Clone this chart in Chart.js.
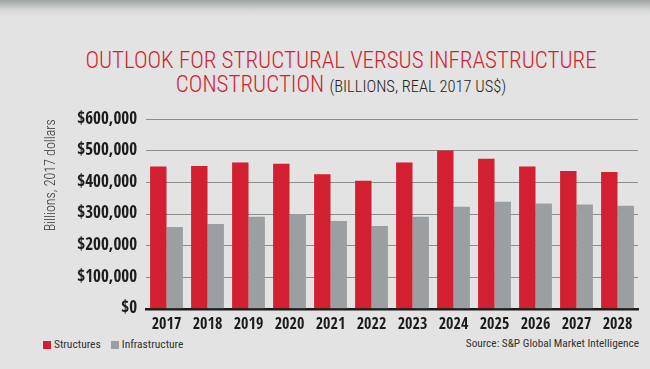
<!DOCTYPE html>
<html>
<head>
<meta charset="utf-8">
<script src="https://cdn.jsdelivr.net/npm/chart.js@4"></script>
<style>
  html, body { margin: 0; padding: 0; }
  body {
    width: 650px; height: 369px; overflow: hidden; position: relative;
    background: linear-gradient(to bottom, #a0a3a3 0px, #d6d8d7 10px, #e2e3e2 16px, #e2e3e2 100%);
    font-family: "Roboto Condensed", sans-serif;
  }
  #title {
    position: absolute; left: 16px; top: 49px; width: 650px;
    text-align: center; color: #d21f31; font-size: 23px; line-height: 24px; font-weight: 300;
  }
  #title .sub { color: #222; font-size: 16.5px; }
  #source {
    position: absolute; right: 11px; top: 337px;
    font-size: 11.3px; color: #333;
  }
  #legend {
    position: absolute; left: 43px; top: 337px;
    font-size: 11.5px; color: #333; line-height: 15px; white-space: nowrap;
  }
  #legend span.item { margin-right: 10px; }
  #legend i { display: inline-block; width: 8px; height: 8px; margin-right: 3px; vertical-align: -0.5px; }
  #wrap { position: absolute; left: 0; top: 100px; width: 650px; height: 245px; }
</style>
</head>
<body>
<div id="title">OUTLOOK FOR STRUCTURAL VERSUS INFRASTRUCTURE<br>CONSTRUCTION <span class="sub">(BILLIONS, REAL 2017 US$)</span></div>
<div id="legend"></div>
<div id="source">Source: S&amp;P Global Market Intelligence</div>
<div id="wrap"><canvas id="chart"></canvas></div>
<script>
const years = ["2017", "2018", "2019", "2020", "2021", "2022", "2023", "2024", "2025", "2026", "2027", "2028"];
const structures = [450000, 452000, 463000, 459000, 426000, 405000, 463000, 501000, 475000, 450000, 436000, 433000];
const infrastructure = [259000, 268000, 291000, 300000, 278000, 262000, 291000, 323000, 339000, 333000, 330000, 326000];

const heavy = "'Open Sans Condensed', 'Roboto Condensed', sans-serif";
const light = "'Roboto Condensed', sans-serif";

const ctx = document.getElementById("chart").getContext("2d");
const chart = new Chart(ctx, {
  type: "bar",
  data: {
    labels: years,
    datasets: [
      { label: "Structures", data: structures, backgroundColor: "#d21f31" },
      { label: "Infrastructure", data: infrastructure, backgroundColor: "#9b9fa2" },
    ],
  },
  options: {
    responsive: true,
    maintainAspectRatio: false,
    animation: false,
    datasets: { bar: { categoryPercentage: 0.8, barPercentage: 1.0 } },
    layout: { padding: { left: 0, right: 12, top: 19, bottom: 5 } },
    plugins: {
      legend: { display: false },
      tooltip: { enabled: false },
    },
    scales: {
      x: {
        grid: { display: false, drawTicks: false },
        border: { color: "#1c1c1c", width: 2.5 },
        ticks: { color: "#1c1c1c", padding: 6, maxRotation: 0, font: { family: heavy, size: 16, weight: "bold" } },
      },
      y: {
        min: 0, max: 600000,
        afterFit: (scale) => { scale.width = 146; },
        grid: { color: "#8c8d8d", lineWidth: 1, drawTicks: false },
        border: { display: false },
        ticks: {
          stepSize: 100000, padding: 9, color: "#1c1c1c",
          font: { family: heavy, size: 17, weight: "bold" },
          callback: (v) => "$" + v.toLocaleString("en-US"),
        },
        title: {
          display: true, text: "Billions, 2017 dollars", color: "#333", align: "end",
          font: { family: light, size: 14, weight: 300 }, padding: { top: 43, bottom: 0 },
        },
      },
    },
  },
});

// legend built from the chart's datasets
const legend = document.getElementById("legend");
chart.data.datasets.forEach((ds) => {
  const item = document.createElement("span");
  item.className = "item";
  item.innerHTML = `<i style="background:${ds.backgroundColor}"></i>${ds.label}`;
  legend.appendChild(item);
});
</script>
</body>
</html>
